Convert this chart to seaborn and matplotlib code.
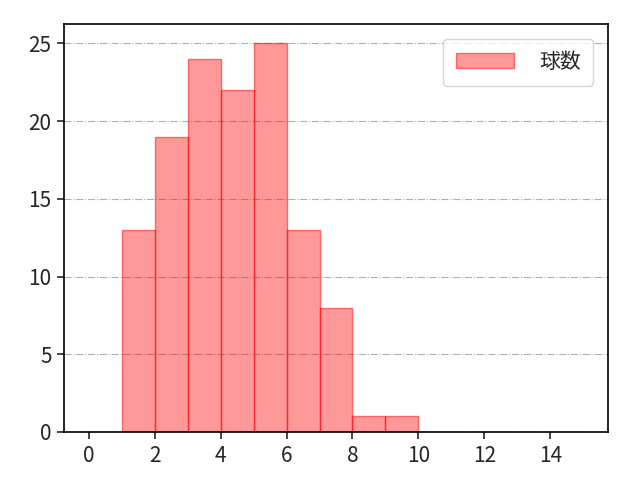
import numpy as np
import matplotlib
matplotlib.use('Agg')
import matplotlib.pyplot as plt
import seaborn as sns

# pitch count per bin (bins of width 1 from 0 to 15)
bin_edges = list(range(0, 16))
counts = [0, 13, 19, 24, 22, 25, 13, 8, 1, 1, 0, 0, 0, 0, 0]
label = '球数'

sns.set_style('white')
plt.rcParams['font.family'] = ['Noto Sans CJK JP', 'DejaVu Sans']
plt.rcParams['font.size'] = 15

fig, ax = plt.subplots(figsize=(6.4, 4.8), dpi=100)
fig.subplots_adjust(left=0.1, right=0.95, top=0.95, bottom=0.1)

sns.histplot(x=bin_edges[:-1], weights=counts, bins=bin_edges, ax=ax,
             color='red', alpha=0.4, edgecolor=(1, 0, 0, 0.5), linewidth=1,
             label=label)

ax.set_xlim(-0.75, 15.75)
ax.set_ylim(0, 26.25)
ax.set_xticks(range(0, 16, 2))
ax.set_yticks(range(0, 26, 5))
ax.set_xlabel('')
ax.set_ylabel('')
ax.grid(axis='y', linestyle='-.', color='#b0b0b0', linewidth=0.8)
ax.set_axisbelow(True)
for s in ax.spines.values():
    s.set_color('black')
    s.set_linewidth(1.2)
ax.tick_params(direction='out', length=5, width=1.2, bottom=True, left=True,
               labelsize=15, pad=4)
ax.legend(loc='upper right', fontsize=15, handlelength=2.8, borderpad=0.6,
          handletextpad=1.2, borderaxespad=0.7)

fig.savefig('out.png', dpi=100)
